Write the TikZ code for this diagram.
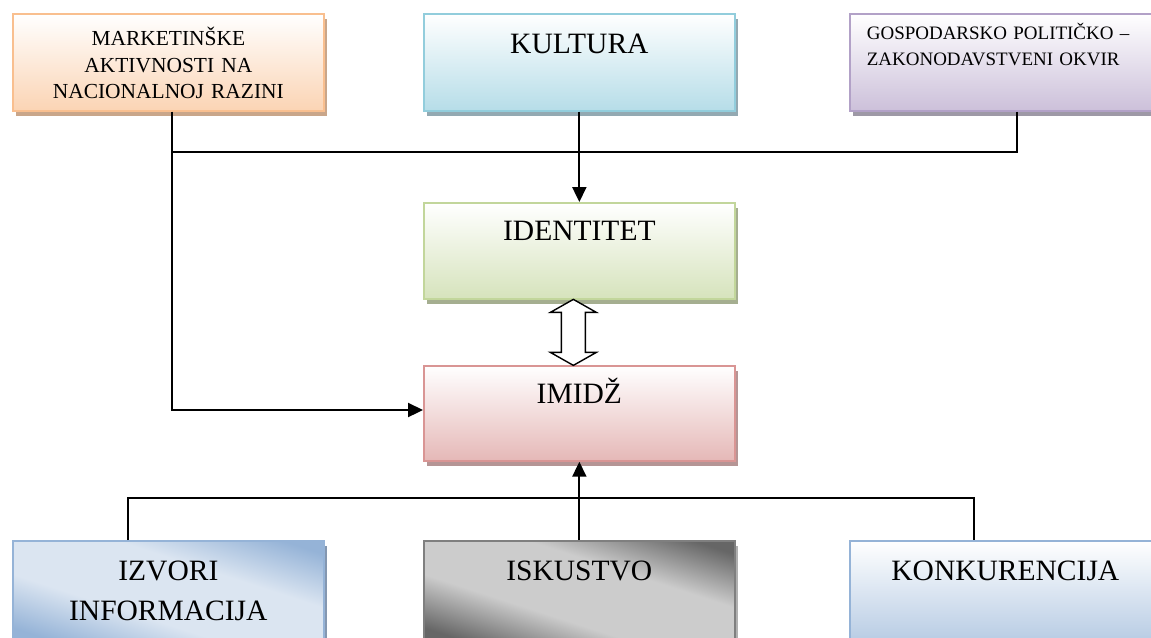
\documentclass[tikz,border=0pt]{standalone}
\usepackage{fontspec}
\setmainfont{Liberation Serif}
\usepackage{tikz}
\usetikzlibrary{calc}
\usetikzlibrary{shadows}
\usetikzlibrary{arrows.meta}
\definecolor{markline}{HTML}{F9BF8F}
\definecolor{markfill}{HTML}{FBD4B4}
\definecolor{markshade}{HTML}{C9A68A}
\definecolor{kulturaline}{HTML}{92CDDC}
\definecolor{kulturafill}{HTML}{B6DDE8}
\definecolor{kulturashade}{HTML}{93A9B2}
\definecolor{gospline}{HTML}{B2A1C7}
\definecolor{gospfill}{HTML}{CCC0DA}
\definecolor{gospshade}{HTML}{9E99A6}
\definecolor{identline}{HTML}{C2D69B}
\definecolor{identfill}{HTML}{D6E3BC}
\definecolor{identshade}{HTML}{A5AE90}
\definecolor{imidzline}{HTML}{D99594}
\definecolor{imidzfill}{HTML}{E5B8B7}
\definecolor{imidzshade}{HTML}{B59595}
\definecolor{izvoriline}{HTML}{95B3D7}
\definecolor{izvoridark}{HTML}{95B3D7}
\definecolor{izvorilight}{HTML}{DBE5F1}
\definecolor{izvorishade}{HTML}{8497B0}
\definecolor{iskustvoline}{HTML}{7F7F7F}
\definecolor{iskustvodark}{HTML}{666666}
\definecolor{iskustvolight}{HTML}{CCCCCC}
\definecolor{iskustvoshade}{HTML}{B0B0B0}
\definecolor{konkline}{HTML}{95B3D7}
\definecolor{konkfill}{HTML}{B8CCE4}
\pgfdeclarehorizontalshading{izvorigrad}{100bp}{color(0bp)=(izvoridark); color(37bp)=(izvoridark); color(45bp)=(izvorilight); color(55bp)=(izvorilight); color(63bp)=(izvoridark); color(100bp)=(izvoridark)}
\pgfdeclarehorizontalshading{iskustvograd}{100bp}{color(0bp)=(iskustvodark); color(37bp)=(iskustvodark); color(45bp)=(iskustvolight); color(55bp)=(iskustvolight); color(63bp)=(iskustvodark); color(100bp)=(iskustvodark)}

\begin{document}
\begin{tikzpicture}[x=0.02cm,y=-0.02cm,
		boxnode/.style={rectangle,draw,line width=1pt,inner sep=0pt,text width=6.22cm,align=center,anchor=north west},
		bignode/.style={boxnode,font=\fontsize{16.8}{22.7}\selectfont},
		boxshadow/.style={general shadow={fill=#1,shadow xshift=1.6pt,shadow yshift=-2.8pt}},
		metalfill/.style={path picture={\shade[shading=#1,shading angle=72] (path picture bounding box.center) ++(-160,-160) rectangle ++(320,320);}},
		link/.style={line width=1pt},
		arrowlink/.style={link,-{Triangle[length=8.5pt,width=8pt]}}
		]
		\useasboundingbox (0,0) rectangle (1151,637);
		\clip (0,0) rectangle (1151,637);
		% upper row
		\node (mark) [boxnode,draw=markline,top color=white,bottom color=markfill,boxshadow=markshade,font=\fontsize{12.2}{15.1}\selectfont,text height=0.64cm,text depth=1.3cm] at (12,13) {MARKETINŠKE\\AKTIVNOSTI NA\\NACIONALNOJ RAZINI};
		\node (kultura) [bignode,draw=kulturaline,top color=white,bottom color=kulturafill,boxshadow=kulturashade,text height=0.8cm,text depth=1.14cm] at (423,13) {KULTURA};
		\node (gosp) [boxnode,align=left,inner xsep=0.34cm,text width=5.54cm,draw=gospline,top color=white,bottom color=gospfill,boxshadow=gospshade,font=\fontsize{10.8}{14.7}\selectfont,text height=0.52cm,text depth=1.42cm] at (849,13) {GOSPODARSKO POLITIČKO –\\ZAKONODAVSTVENI OKVIR};
		% middle
		\node (identitet) [bignode,draw=identline,top color=white,bottom color=identfill,boxshadow=identshade,text height=0.76cm,text depth=1.16cm] at (423,202) {IDENTITET};
		\node (imidz) [bignode,draw=imidzline,top color=white,bottom color=imidzfill,boxshadow=imidzshade,text height=0.76cm,text depth=1.14cm] at (423,365) {IMIDŽ};
		% lower row
		\node (izvori) [bignode,draw=izvoriline,metalfill=izvorigrad,boxshadow=izvorishade,text height=0.8cm,text depth=1.2cm] at (12,540) {IZVORI\\INFORMACIJA};
		\node (iskustvo) [bignode,draw=iskustvoline,metalfill=iskustvograd,boxshadow=iskustvoshade,text height=0.8cm,text depth=1.2cm] at (423,540) {ISKUSTVO};
		\node (konk) [bignode,draw=konkline,top color=white,bottom color=konkfill,text height=0.8cm,text depth=1.2cm] at (849,540) {KONKURENCIJA};
		% connectors
		\coordinate (mbend) at (172,410);
		\coordinate (tjoin) at (1017,152);
		\coordinate (bleft) at (128,498);
		\coordinate (bright) at (974,498);
		\draw[arrowlink] (mark.south -| mbend) -- (mbend) -- (imidz.west |- mbend);
		\draw[link] (gosp.south -| tjoin) -- (tjoin) -- (tjoin -| mbend);
		\draw[arrowlink] (kultura.south) -- (identitet.north);
		\draw[arrowlink] (iskustvo.north) -- (imidz.south);
		\draw[link] (izvori.north -| bleft) -- (bleft) -- (bright) -- (konk.north -| bright);
		\coordinate (mid) at ($(identitet.south)!0.5!(imidz.north)$);
		\draw[line width=0.8pt,fill=white,shift={($(mid)+(-6,0)$)}] (0,-33) -- (23,-20) -- (12,-20) -- (12,20) -- (23,20) -- (0,33) -- (-23,20) -- (-12,20) -- (-12,-20) -- (-23,-20) -- cycle;
\end{tikzpicture}
\end{document}
